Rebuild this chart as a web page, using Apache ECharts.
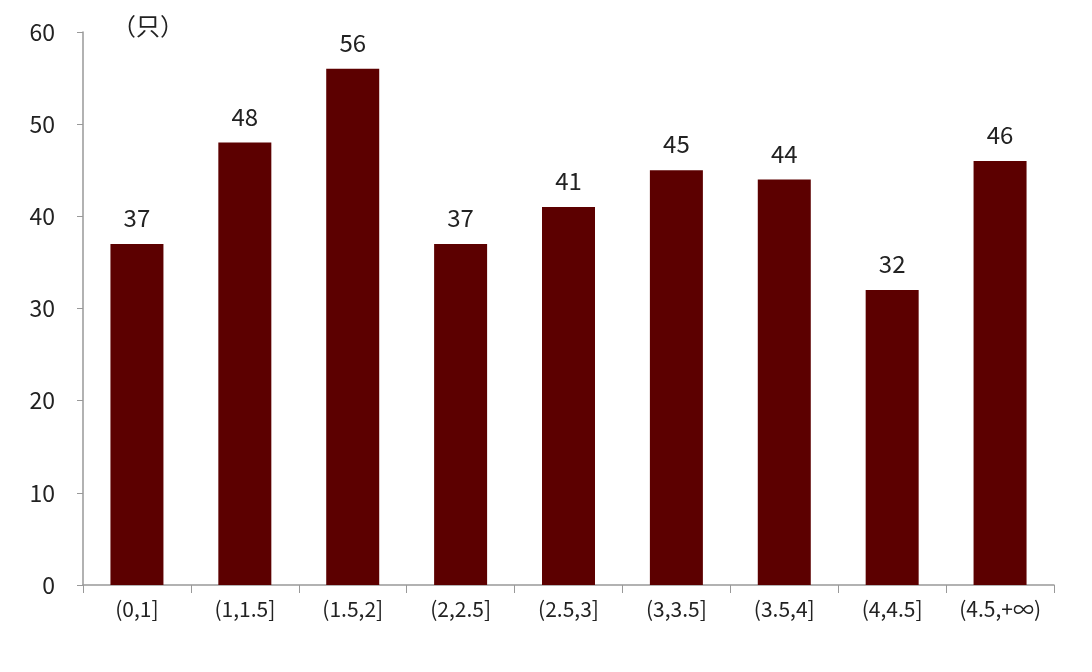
<!DOCTYPE html>
<html><head><meta charset="utf-8">
<script src="https://cdn.jsdelivr.net/npm/echarts@6/dist/echarts.min.js"></script>
<style>html,body{margin:0;padding:0;background:#fff}#c{width:1092px;height:672px}</style>
</head><body><div id="c"></div>
<script>
const categories = ['(0,1]','(1,1.5]','(1.5,2]','(2,2.5]','(2.5,3]','(3,3.5]','(3.5,4]','(4,4.5]','(4.5,+∞)'];
const values = [37,48,56,37,41,45,44,32,46];
const unitLabel = '（只）';
const font = '"Noto Sans CJK SC", "Noto Sans", sans-serif';
const chart = echarts.init(document.getElementById('c'));
chart.setOption({
  animation:false,
  grid:{left:83,right:38,top:32,bottom:87},
  graphic:[{type:'text',left:112,top:14,style:{text:unitLabel,font:'24px '+font,fill:'#222'}}],
  xAxis:{type:'category',data:categories,
    axisLine:{lineStyle:{color:'#999',width:1.5}},
    axisTick:{show:true,length:8,lineStyle:{color:'#999'}},
    axisLabel:{fontSize:21,color:'#222',fontFamily:font,margin:14}},
  yAxis:{type:'value',min:0,max:60,interval:10,
    axisLine:{show:true,lineStyle:{color:'#999',width:1.5}},
    axisTick:{show:true,length:6,lineStyle:{color:'#999'}},
    splitLine:{show:false},
    axisLabel:{fontSize:23,color:'#222',fontFamily:font,margin:28}},
  series:[{type:'bar',data:values,barWidth:53,
    itemStyle:{color:'#5C0000'},
    label:{show:true,position:'top',distance:14,fontSize:24,color:'#222',fontFamily:font}}]
});
</script></body></html>
